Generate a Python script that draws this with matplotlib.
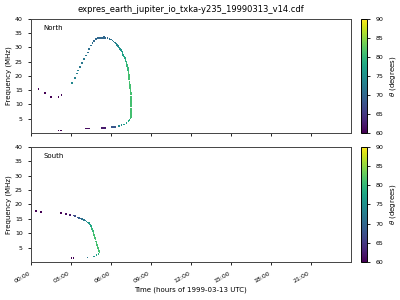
import matplotlib
matplotlib.use('Agg')
import matplotlib.pyplot as plt
from matplotlib.colors import Normalize

title = 'expres_earth_jupiter_io_txka-y235_19990313_v14.cdf'
hour_ticks = [0, 3, 6, 9, 12, 15, 18, 21]
hour_labels = ['00:00', '03:00', '06:00', '09:00', '12:00', '15:00', '18:00', '21:00']

# North hemisphere: time (h), frequency (MHz), theta (deg)
north_t = [0.55, 1.07, 1.48, 2.05, 2.28, 2.05, 2.25,
           4.15, 4.25, 4.35, 5.35, 5.45, 5.55, 6.1, 6.2, 6.3,
           3.1, 3.3, 3.45, 3.55, 3.68, 3.85, 4.0, 4.13, 4.26, 4.35, 4.5, 4.63, 4.75, 4.88, 5.0,
           5.1, 5.2, 5.3, 5.4, 5.48, 5.5, 5.6, 5.75, 5.9, 6.02, 6.12, 6.2, 6.3, 6.38, 6.45, 6.52,
           6.6, 6.68, 6.76, 6.83, 6.88, 6.93, 6.99, 7.05, 7.1, 7.13, 7.17, 7.2, 7.23, 7.27,
           7.3, 7.32, 7.33, 7.35, 7.36, 7.37, 7.38, 7.4, 7.41, 7.42, 7.43, 7.45, 7.47, 7.48,
           7.49, 7.5, 7.5, 7.51, 7.51, 7.52, 7.52, 7.52, 7.52, 7.52, 7.52, 7.52, 7.51, 7.51,
           7.5, 7.48, 7.4, 7.31, 7.18, 7.0, 6.8, 6.63]
north_f = [15.4, 14.0, 12.6, 12.6, 13.3, 0.9, 0.9,
           1.5, 1.5, 1.5, 1.75, 1.75, 1.75, 2.1, 2.1, 2.1,
           17.5, 19.3, 20.8, 21.9, 23.1, 24.5, 25.9, 27.1, 28.2, 29.4, 30.6, 31.5, 32.2, 32.9, 33.2,
           33.3, 33.3, 33.3, 33.3, 33.3, 33.7, 33.3, 33.2, 33.0, 32.7, 32.4, 32.1, 31.7, 31.3, 30.9, 30.5,
           30.0, 29.5, 29.0, 28.5, 28.0, 27.4, 26.8, 26.2, 25.6, 25.1, 24.5, 23.9, 23.3, 22.7,
           22.1, 21.5, 21.0, 20.4, 19.8, 19.2, 18.7, 18.1, 17.5, 16.9, 16.3, 15.8, 15.2, 14.6,
           14.0, 13.4, 12.8, 12.2, 11.6, 11.0, 10.4, 9.8, 9.2, 8.6, 8.0, 7.4, 6.8, 6.2,
           5.6, 5.1, 4.6, 4.1, 3.5, 2.9, 2.7, 2.4]
north_theta = [60, 60, 60, 60, 60.5, 60, 60,
               61, 61, 61, 62, 62, 62, 68, 68, 68,
               74, 73, 73, 73, 72, 72, 72, 72, 71, 71, 71, 71, 70, 70, 70,
               70, 70, 70, 70, 70, 70, 70, 70, 71, 71, 72, 72, 73, 73, 74, 74,
               75, 75, 76, 76, 77, 77, 78, 78, 79, 79, 80, 80, 80, 80,
               80, 81, 81, 81, 81, 81, 81, 81, 81, 81, 81, 81, 81, 81,
               81, 81, 81, 81, 81, 81, 81, 81, 81, 81, 81, 81, 81, 81,
               81, 80, 79, 78, 77, 76, 75, 74]

# South hemisphere
south_t = [0.375, 0.73, 2.25, 2.63, 2.93, 3.05, 3.18,
           3.18, 3.3, 3.48, 3.6, 3.73, 3.85, 3.98, 4.08, 4.18, 4.27, 4.35, 4.43, 4.5, 4.55,
           4.6, 4.65, 4.7, 4.73, 4.77, 4.8, 4.85, 4.9, 4.93, 4.97, 5.0, 5.03, 5.08, 5.12,
           5.13, 5.08, 4.93, 4.73, 4.25]
south_f = [17.7, 17.3, 17.0, 16.7, 16.3, 1.45, 1.45,
           16.1, 15.9, 15.5, 15.3, 15.1, 14.9, 14.7, 14.4, 14.1, 13.8, 13.5, 13.1, 12.6, 12.0,
           11.5, 10.8, 10.1, 9.5, 8.9, 8.4, 7.8, 7.2, 6.6, 6.0, 5.4, 4.9, 4.4, 3.9,
           3.4, 2.9, 2.4, 2.0, 1.6]
south_theta = [60, 60, 60, 61, 62, 60, 60,
               66, 67, 68, 69, 70, 71, 72, 73, 74, 75, 76, 77, 78, 79,
               80, 80, 81, 81, 81, 81, 81, 81, 81, 81, 81, 81, 81, 81,
               81, 79, 77, 75, 72]

fig = plt.figure(figsize=(4, 3), dpi=100)
norm = Normalize(vmin=60, vmax=90)

panels = [
    ('North', north_t, north_f, north_theta, [0.0775, 0.558, 0.799, 0.379], [0.902, 0.558, 0.016, 0.379]),
    ('South', south_t, south_f, south_theta, [0.0775, 0.127, 0.799, 0.384], [0.902, 0.127, 0.016, 0.384]),
]

for name, t, f, th, pos, cpos in panels:
    ax = fig.add_axes(pos)
    sc = ax.scatter(t, f, c=th, cmap='viridis', norm=norm, marker='s', s=1.3,
                    linewidths=0, antialiased=False)
    ax.set_xlim(0, 24)
    ax.set_ylim(0.1, 40)
    ax.set_yticks([5, 10, 15, 20, 25, 30, 35, 40])
    ax.set_xticks(hour_ticks)
    ax.tick_params(labelsize=4.5, length=2.5, width=0.6)
    for s in ax.spines.values():
        s.set_linewidth(0.7)
        s.set_color('#444444')
    ax.set_ylabel('Frequency (MHz)', fontsize=5, labelpad=2)
    ax.text(0.04, 0.9, name, transform=ax.transAxes, fontsize=5)
    if name == 'North':
        ax.set_xticklabels([])
        ax.set_title(title, fontsize=6, pad=5)
    else:
        ax.set_xticklabels(hour_labels, rotation=30, ha='right')
        ax.set_xlabel('Time (hours of 1999-03-13 UTC)', fontsize=5, labelpad=2)
    cax = fig.add_axes(cpos)
    cb = fig.colorbar(sc, cax=cax)
    cb.set_ticks([60, 65, 70, 75, 80, 85, 90])
    cb.ax.tick_params(labelsize=4.5, length=2.5, width=0.6)
    cb.outline.set_linewidth(0.7)
    cb.set_label(r'$\theta$ (degrees)', fontsize=5, labelpad=3)

fig.savefig('out.png', dpi=100)
